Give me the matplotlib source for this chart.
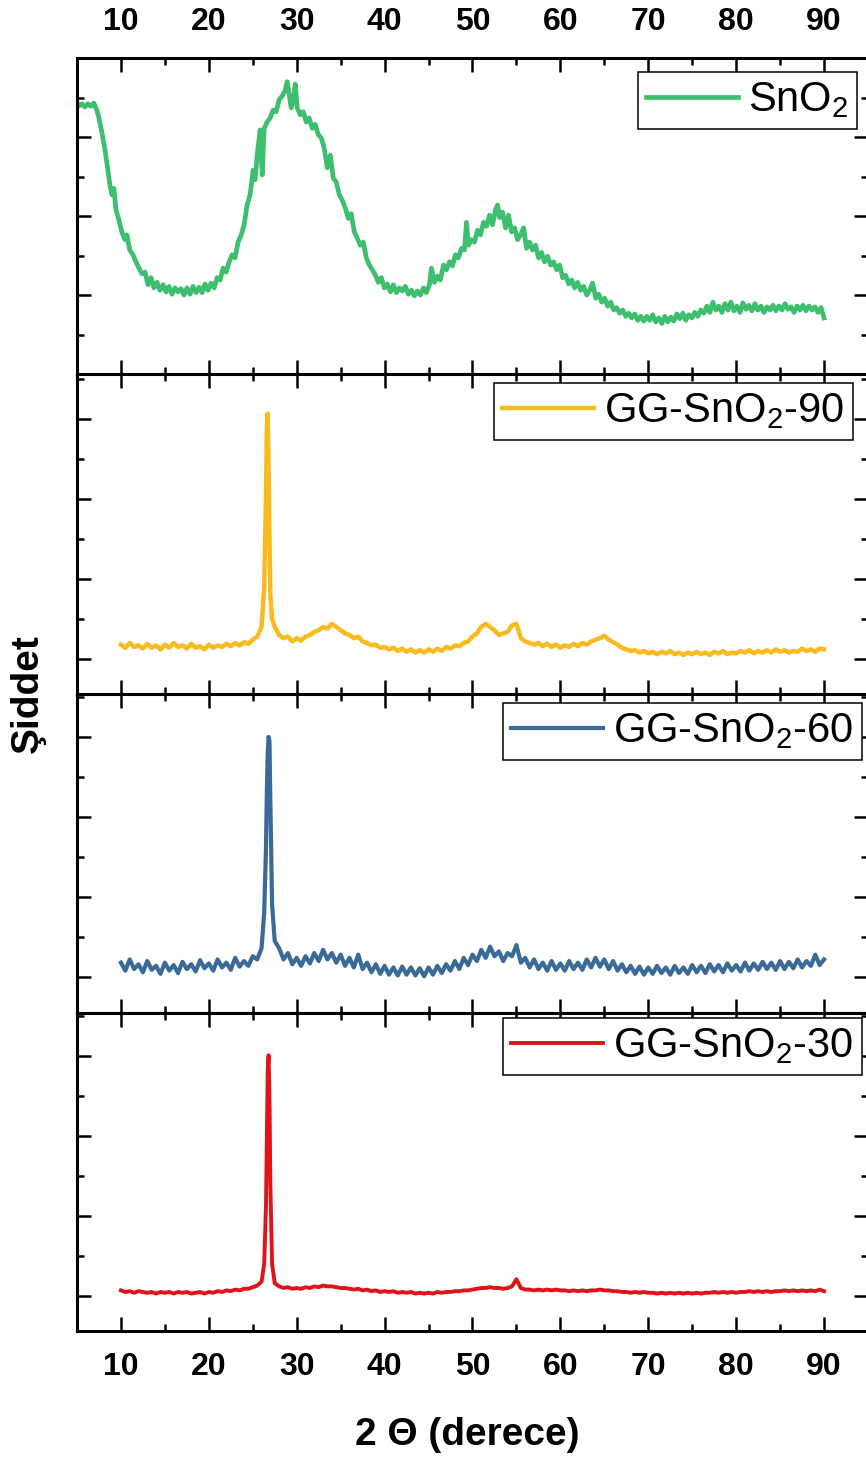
import matplotlib
matplotlib.use('Agg')
import matplotlib.pyplot as plt
from matplotlib.ticker import MultipleLocator

plt.rcParams['font.family'] = ['Liberation Sans', 'DejaVu Sans']
plt.rcParams['mathtext.fontset'] = 'custom'
plt.rcParams['mathtext.rm'] = 'Liberation Sans'
plt.rcParams['mathtext.it'] = 'Liberation Sans:italic'
plt.rcParams['mathtext.bf'] = 'Liberation Sans:bold'

# SnO2 pattern (2theta, intensity a.u.)
sno2 = [(5.0, 344), (5.2, 339), (5.55, 342), (5.9, 338), (6.24, 342), (6.58, 339), (6.92, 343),
        (7.26, 334), (7.5, 324), (7.83, 306), (8.18, 284), (8.52, 258), (8.75, 239), (8.97, 227),
        (9.2, 235), (9.43, 208), (9.77, 195), (10.1, 180), (10.46, 170), (10.68, 176), (11.0, 157),
        (11.37, 151), (11.71, 142), (12.05, 134), (12.4, 127), (12.74, 129), (13.08, 113),
        (13.42, 122), (13.76, 109), (14.1, 116), (14.44, 106), (14.79, 113), (15.13, 104),
        (15.47, 111), (15.81, 101), (16.15, 109), (16.5, 104), (16.84, 108), (17.18, 100),
        (17.52, 109), (17.86, 101), (18.2, 111), (18.55, 103), (18.89, 110), (19.23, 103),
        (19.57, 114), (19.91, 106), (20.26, 115), (20.6, 109), (20.94, 122), (21.28, 119),
        (21.62, 134), (21.97, 129), (22.31, 142), (22.65, 151), (22.99, 147), (23.33, 167),
        (23.68, 176), (24.02, 189), (24.36, 214), (24.7, 227), (25.04, 258), (25.27, 246),
        (25.5, 277), (25.84, 309), (26.07, 252), (26.3, 311), (26.64, 319), (26.98, 324),
        (27.32, 334), (27.66, 332), (28.0, 347), (28.35, 352), (28.69, 359), (28.92, 370),
        (29.15, 353), (29.37, 337), (29.6, 347), (29.83, 367), (30.06, 337), (30.4, 328),
        (30.74, 332), (31.08, 319), (31.42, 324), (31.77, 311), (32.1, 316), (32.45, 303),
        (32.79, 299), (33.13, 286), (33.48, 261), (33.82, 277), (34.16, 248), (34.5, 243),
        (34.84, 227), (35.19, 220), (35.53, 210), (35.87, 197), (36.2, 203), (36.55, 180),
        (36.89, 172), (37.24, 163), (37.58, 167), (37.92, 147), (38.26, 138), (38.6, 132),
        (38.95, 125), (39.29, 116), (39.63, 122), (39.97, 109), (40.3, 114), (40.66, 104),
        (41.0, 113), (41.34, 103), (41.68, 109), (42.02, 105), (42.36, 111), (42.7, 101),
        (43.05, 106), (43.39, 99), (43.73, 105), (44.07, 100), (44.42, 109), (44.76, 103),
        (45.1, 113), (45.33, 134), (45.67, 116), (46.0, 124), (46.35, 119), (46.7, 138),
        (47.04, 132), (47.38, 142), (47.72, 137), (48.06, 151), (48.4, 147), (48.75, 159),
        (49.09, 157), (49.32, 192), (49.54, 163), (49.89, 170), (50.23, 167), (50.57, 182),
        (50.91, 176), (51.25, 192), (51.6, 187), (51.94, 201), (52.28, 189), (52.62, 208),
        (52.85, 214), (53.08, 198), (53.42, 205), (53.76, 185), (54.1, 201), (54.44, 180),
        (54.79, 185), (55.13, 170), (55.47, 176), (55.81, 185), (56.15, 159), (56.5, 167),
        (56.84, 157), (57.18, 163), (57.52, 147), (57.86, 154), (58.2, 142), (58.55, 149),
        (58.89, 138), (59.23, 142), (59.57, 132), (59.91, 138), (60.26, 122), (60.6, 125),
        (60.94, 114), (61.28, 119), (61.62, 109), (61.97, 116), (62.31, 106), (62.65, 111),
        (63.0, 100), (63.33, 106), (63.67, 115), (64.02, 96), (64.36, 101), (64.7, 91),
        (65.04, 96), (65.38, 86), (65.73, 91), (66.07, 81), (66.41, 84), (66.75, 77),
        (67.1, 81), (67.44, 73), (67.78, 77), (68.12, 71), (68.46, 76), (68.8, 68),
        (69.15, 73), (69.49, 67), (69.83, 73), (70.17, 68), (70.5, 75), (70.85, 66),
        (71.2, 71), (71.54, 64), (71.88, 73), (72.22, 66), (72.56, 72), (72.9, 67),
        (73.25, 76), (73.6, 70), (73.93, 77), (74.27, 68), (74.6, 75), (74.96, 71),
        (75.3, 78), (75.64, 73), (75.98, 81), (76.32, 77), (76.67, 86), (77.0, 78),
        (77.35, 91), (77.7, 81), (78.03, 86), (78.38, 78), (78.72, 89), (79.06, 81),
        (79.4, 91), (79.74, 80), (80.08, 86), (80.43, 78), (80.77, 90), (81.1, 82),
        (81.45, 87), (81.8, 80), (82.14, 89), (82.48, 81), (82.82, 86), (83.16, 78),
        (83.5, 85), (83.85, 81), (84.19, 87), (84.53, 80), (84.87, 86), (85.21, 81),
        (85.56, 89), (85.9, 82), (86.24, 85), (86.58, 78), (86.92, 86), (87.26, 81),
        (87.6, 87), (87.95, 80), (88.29, 86), (88.63, 81), (88.97, 85), (89.3, 78),
        (89.66, 84), (90.0, 71)]

# GG-SnO2-90
gg90 = [(10.0, 18), (10.5, 14), (11.0, 20), (11.5, 15), (12.0, 17), (12.5, 13), (13.0, 19),
        (13.5, 14), (14.0, 17), (14.5, 12), (15.0, 18), (15.5, 14), (16.0, 20), (16.5, 15),
        (17.0, 17), (17.5, 13), (18.0, 19), (18.5, 14), (19.0, 16), (19.5, 12), (20.0, 18),
        (20.5, 14), (21.0, 17), (21.5, 15), (22.0, 19), (22.5, 16), (23.0, 20), (23.5, 17),
        (24.0, 21), (24.5, 19), (25.0, 24), (25.5, 28), (26.0, 40), (26.3, 90), (26.5, 200),
        (26.6, 290), (26.7, 307), (26.8, 240), (26.9, 150), (27.0, 80), (27.2, 50), (27.5, 40),
        (28.0, 30), (28.5, 26), (29.0, 28), (29.5, 22), (30.0, 26), (30.5, 23), (31.0, 28),
        (31.5, 30), (32.0, 34), (32.5, 36), (33.0, 40), (33.5, 38), (34.0, 44), (34.5, 40),
        (35.0, 36), (35.5, 32), (36.0, 30), (36.5, 26), (37.0, 28), (37.5, 22), (38.0, 20),
        (38.5, 17), (39.0, 18), (39.5, 14), (40.0, 15), (40.5, 12), (41.0, 14), (41.5, 10),
        (42.0, 13), (42.5, 9), (43.0, 12), (43.5, 8), (44.0, 11), (44.5, 8), (45.0, 12),
        (45.5, 9), (46.0, 13), (46.5, 10), (47.0, 15), (47.5, 13), (48.0, 17), (48.5, 16),
        (49.0, 20), (49.5, 22), (50.0, 28), (50.5, 32), (51.0, 40), (51.5, 44), (52.0, 40),
        (52.5, 36), (53.0, 30), (53.5, 32), (54.0, 34), (54.5, 42), (55.0, 44), (55.5, 26),
        (56.0, 22), (56.5, 20), (57.0, 18), (57.5, 20), (58.0, 16), (58.5, 19), (59.0, 15),
        (59.5, 18), (60.0, 14), (60.5, 17), (61.0, 15), (61.5, 19), (62.0, 16), (62.5, 20),
        (63.0, 18), (63.5, 22), (64.0, 24), (64.5, 26), (65.0, 29), (65.5, 24), (66.0, 21),
        (66.5, 18), (67.0, 14), (67.5, 12), (68.0, 10), (68.5, 11), (69.0, 8), (69.5, 10),
        (70.0, 7), (70.5, 9), (71.0, 6), (71.5, 9), (72.0, 7), (72.5, 10), (73.0, 6), (73.5, 8),
        (74.0, 5), (74.5, 8), (75.0, 6), (75.5, 9), (76.0, 6), (76.5, 8), (77.0, 5), (77.5, 9),
        (78.0, 7), (78.5, 10), (79.0, 6), (79.5, 8), (80.0, 7), (80.5, 10), (81.0, 8),
        (81.5, 11), (82.0, 7), (82.5, 10), (83.0, 8), (83.5, 11), (84.0, 8), (84.5, 12),
        (85.0, 9), (85.5, 11), (86.0, 8), (86.5, 10), (87.0, 9), (87.5, 13), (88.0, 10),
        (88.5, 12), (89.0, 9), (89.5, 13), (90.0, 12)]

# GG-SnO2-60
gg60 = [(10.0, 18), (10.5, 8), (11.0, 22), (11.5, 10), (12.0, 16), (12.5, 6), (13.0, 20),
        (13.5, 9), (14.0, 14), (14.5, 4), (15.0, 18), (15.5, 8), (16.0, 15), (16.5, 5),
        (17.0, 19), (17.5, 10), (18.0, 16), (18.5, 7), (19.0, 21), (19.5, 11), (20.0, 17),
        (20.5, 8), (21.0, 22), (21.5, 12), (22.0, 18), (22.5, 9), (23.0, 24), (23.5, 13),
        (24.0, 20), (24.5, 14), (25.0, 26), (25.5, 22), (26.0, 36), (26.3, 80), (26.5, 160),
        (26.6, 230), (26.7, 280), (26.8, 300), (26.9, 295), (27.0, 220), (27.2, 90), (27.5, 45),
        (28.0, 36), (28.5, 22), (29.0, 30), (29.5, 16), (30.0, 24), (30.5, 14), (31.0, 26),
        (31.5, 17), (32.0, 30), (32.5, 20), (33.0, 34), (33.5, 22), (34.0, 30), (34.5, 18),
        (35.0, 28), (35.5, 14), (36.0, 24), (36.5, 12), (37.0, 28), (37.5, 10), (38.0, 18),
        (38.5, 6), (39.0, 16), (39.5, 4), (40.0, 14), (40.5, 3), (41.0, 12), (41.5, 2),
        (42.0, 13), (42.5, 3), (43.0, 12), (43.5, 2), (44.0, 11), (44.5, 1), (45.0, 12),
        (45.5, 3), (46.0, 14), (46.5, 5), (47.0, 16), (47.5, 8), (48.0, 20), (48.5, 10),
        (49.0, 24), (49.5, 15), (50.0, 28), (50.5, 20), (51.0, 34), (51.5, 24), (52.0, 38),
        (52.5, 26), (53.0, 32), (53.5, 20), (54.0, 30), (54.5, 26), (55.0, 40), (55.5, 18),
        (56.0, 24), (56.5, 12), (57.0, 22), (57.5, 10), (58.0, 18), (58.5, 8), (59.0, 20),
        (59.5, 9), (60.0, 17), (60.5, 8), (61.0, 20), (61.5, 10), (62.0, 18), (62.5, 9),
        (63.0, 22), (63.5, 12), (64.0, 24), (64.5, 13), (65.0, 22), (65.5, 10), (66.0, 20),
        (66.5, 8), (67.0, 16), (67.5, 6), (68.0, 14), (68.5, 4), (69.0, 13), (69.5, 3),
        (70.0, 12), (70.5, 4), (71.0, 14), (71.5, 5), (72.0, 12), (72.5, 3), (73.0, 14),
        (73.5, 5), (74.0, 12), (74.5, 4), (75.0, 15), (75.5, 6), (76.0, 14), (76.5, 5),
        (77.0, 16), (77.5, 7), (78.0, 15), (78.5, 6), (79.0, 17), (79.5, 8), (80.0, 15),
        (80.5, 7), (81.0, 18), (81.5, 8), (82.0, 17), (82.5, 9), (83.0, 19), (83.5, 10),
        (84.0, 18), (84.5, 9), (85.0, 20), (85.5, 10), (86.0, 19), (86.5, 11), (87.0, 22),
        (87.5, 12), (88.0, 20), (88.5, 14), (89.0, 28), (89.5, 15), (90.0, 22)]

# GG-SnO2-30
gg30 = [(10.0, 7), (10.5, 5), (11.0, 6), (11.5, 4), (12.0, 6), (12.5, 5), (13.0, 4), (13.5, 5),
        (14.0, 3), (14.5, 5), (15.0, 4), (15.5, 5), (16.0, 3), (16.5, 5), (17.0, 4), (17.5, 5),
        (18.0, 3), (18.5, 4), (19.0, 5), (19.5, 3), (20.0, 5), (20.5, 4), (21.0, 6), (21.5, 5),
        (22.0, 7), (22.5, 6), (23.0, 8), (23.5, 7), (24.0, 9), (24.5, 9), (25.0, 11), (25.5, 13),
        (26.0, 18), (26.3, 40), (26.5, 110), (26.6, 200), (26.7, 280), (26.8, 301), (26.9, 250),
        (27.0, 140), (27.2, 40), (27.5, 16), (28.0, 12), (28.5, 10), (29.0, 11), (29.5, 9),
        (30.0, 10), (30.5, 9), (31.0, 11), (31.5, 10), (32.0, 12), (32.5, 11), (33.0, 13),
        (33.5, 12), (34.0, 12), (34.5, 11), (35.0, 10), (35.5, 10), (36.0, 9), (36.5, 8),
        (37.0, 9), (37.5, 7), (38.0, 8), (38.5, 6), (39.0, 7), (39.5, 5), (40.0, 6), (40.5, 5),
        (41.0, 6), (41.5, 4), (42.0, 5), (42.5, 4), (43.0, 5), (43.5, 3), (44.0, 4), (44.5, 3),
        (45.0, 4), (45.5, 3), (46.0, 5), (46.5, 4), (47.0, 5), (47.5, 5), (48.0, 6), (48.5, 6),
        (49.0, 7), (49.5, 7), (50.0, 8), (50.5, 9), (51.0, 10), (51.5, 10), (52.0, 11),
        (52.5, 10), (53.0, 10), (53.5, 9), (54.0, 10), (54.5, 12), (55.0, 21), (55.5, 10),
        (56.0, 8), (56.5, 8), (57.0, 7), (57.5, 8), (58.0, 7), (58.5, 8), (59.0, 7), (59.5, 8),
        (60.0, 7), (60.5, 7), (61.0, 6), (61.5, 7), (62.0, 6), (62.5, 7), (63.0, 6), (63.5, 7),
        (64.0, 7), (64.5, 8), (65.0, 7), (65.5, 7), (66.0, 6), (66.5, 6), (67.0, 5), (67.5, 5),
        (68.0, 4), (68.5, 5), (69.0, 4), (69.5, 5), (70.0, 4), (70.5, 4), (71.0, 3), (71.5, 4),
        (72.0, 3), (72.5, 4), (73.0, 3), (73.5, 4), (74.0, 3), (74.5, 4), (75.0, 3), (75.5, 4),
        (76.0, 3), (76.5, 4), (77.0, 4), (77.5, 5), (78.0, 4), (78.5, 5), (79.0, 4), (79.5, 5),
        (80.0, 4), (80.5, 5), (81.0, 5), (81.5, 6), (82.0, 5), (82.5, 6), (83.0, 5), (83.5, 6),
        (84.0, 5), (84.5, 6), (85.0, 6), (85.5, 7), (86.0, 6), (86.5, 7), (87.0, 6), (87.5, 7),
        (88.0, 6), (88.5, 7), (89.0, 6), (89.5, 8), (90.0, 6)]

labels = [r'SnO$_\mathregular{2}$', r'GG-SnO$_\mathregular{2}$-90',
          r'GG-SnO$_\mathregular{2}$-60', r'GG-SnO$_\mathregular{2}$-30']
colors = ['#3dbf6f', '#f8bb1e', '#3a6a98', '#e01418']
widths = [3.4, 3.2, 3.0, 2.8]
series = [sno2, gg90, gg60, gg30]
ylims = [(0, 400), (-43.75, 356.25), (-45, 353.75), (-43.75, 353.75)]

# axes rectangles (fig fraction)
rects = [(0.0889, 0.744, 0.9134, 0.2163),
         (0.0889, 0.525, 0.9134, 0.2190),
         (0.0889, 0.3066, 0.9134, 0.2184),
         (0.0889, 0.0890, 0.9134, 0.2176)]
leg_anchor = [(0.986, 0.956), (0.981, 0.972), (0.992, 0.972), (0.992, 0.984)]

fig = plt.figure(figsize=(8.66, 14.61), dpi=100)
for i in range(4):
    ax = fig.add_axes(rects[i])
    x, y = zip(*series[i])
    ax.plot(x, y, color=colors[i], lw=widths[i], label=labels[i])
    ax.set_xlim(5, 95)
    ax.set_ylim(*ylims[i])
    ax.xaxis.set_major_locator(MultipleLocator(10))
    ax.xaxis.set_minor_locator(MultipleLocator(5))
    ax.yaxis.set_major_locator(MultipleLocator(100))
    ax.yaxis.set_minor_locator(MultipleLocator(50))
    ax.tick_params(which='both', direction='in', top=True, right=True, bottom=True, left=True,
                   labelleft=False, labelbottom=(i == 3), labeltop=(i == 0), width=1.8, pad=15)
    ax.tick_params(which='major', length=10)
    ax.tick_params(which='minor', length=5)
    for lab in ax.get_xticklabels():
        lab.set_fontsize(23)
        lab.set_fontweight('bold')
    for sp in ax.spines.values():
        sp.set_linewidth(2.2)
    leg = ax.legend(loc='upper right', bbox_to_anchor=leg_anchor[i], fontsize=30,
                    frameon=True, fancybox=False, framealpha=1, edgecolor='black',
                    borderpad=0.2, borderaxespad=0, handlelength=2.2, handletextpad=0.25)
    leg.get_frame().set_linewidth(1.1)

fig.text(0.032, 0.525, 'Şiddet', rotation=90, ha='center', va='center',
         fontsize=28, fontweight='bold')
fig.text(0.54, 0.018, '2 Θ (derece)', ha='center', va='center', fontsize=28, fontweight='bold')

fig.savefig('out.png', dpi=100)
